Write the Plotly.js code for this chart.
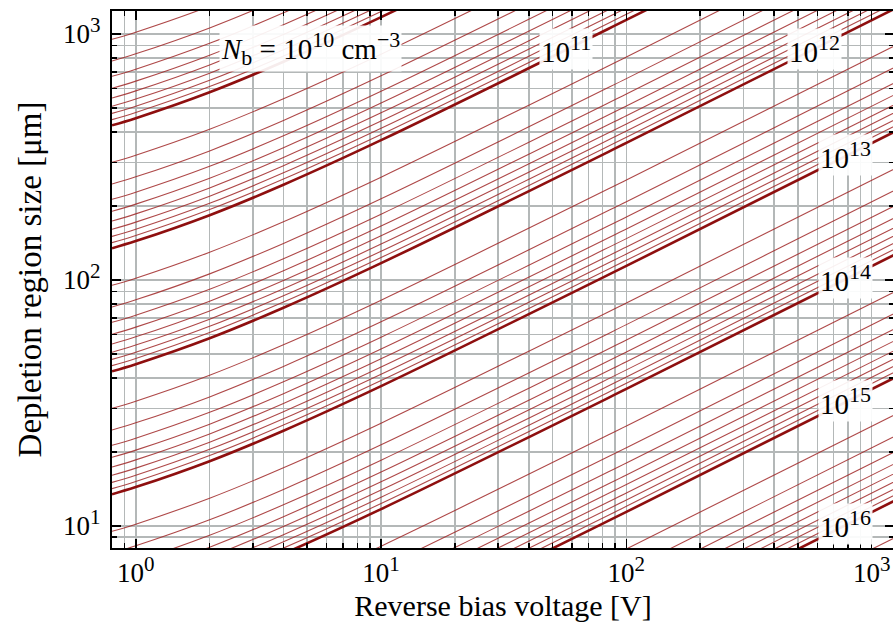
<!DOCTYPE html>
<html><head><meta charset="utf-8">
<script src="https://cdn.plot.ly/plotly-3.0.1.min.js"></script>
<style>html,body{margin:0;padding:0;overflow:hidden;background:#fff}#chart{width:895px;height:623px}</style>
</head><body><div id="chart"></div>
<script>
// Reverse bias voltage sample points [V]
const voltage = [0.8, 1, 2, 4, 10, 100, 1300];

// Depletion region size [um], grouped per decade of N_b
const mult09 = [2, 3, 4, 5, 6, 7, 8, 9];
const width09 = [
  [951.4, 1017.2, 1296.5, 1724.7, 2618.0, 8065, 28998],
  [776.8, 830.5, 1058.6, 1408.2, 2137.6, 6585, 23677],
  [672.8, 719.3, 916.7, 1219.5, 1851.2, 5703, 20505],
  [601.8, 643.3, 820.0, 1090.8, 1655.8, 5101, 18340],
  [549.3, 587.3, 748.5, 995.7, 1511.5, 4656, 16742],
  [508.6, 543.7, 693.0, 921.9, 1399.4, 4311, 15500],
  [475.7, 508.6, 648.3, 862.4, 1309.0, 4033, 14499],
  [448.5, 479.5, 611.2, 813.0, 1234.1, 3802, 13670]
];
const mult10 = [1, 2, 3, 4, 5, 6, 7, 8, 9];
const width10 = [
  [425.5, 454.9, 579.8, 771.3, 1170.8, 3606.8, 12968.5],
  [300.9, 321.7, 410.0, 545.4, 827.9, 2550, 9170],
  [245.7, 262.6, 334.8, 445.3, 676.0, 2082, 7487],
  [212.8, 227.5, 289.9, 385.7, 585.4, 1803, 6484],
  [190.3, 203.4, 259.3, 344.9, 523.6, 1613, 5800],
  [173.7, 185.7, 236.7, 314.9, 478.0, 1473, 5294],
  [160.8, 171.9, 219.1, 291.5, 442.5, 1363, 4902],
  [150.4, 160.8, 205.0, 272.7, 413.9, 1275, 4585],
  [141.8, 151.6, 193.3, 257.1, 390.3, 1202, 4323]
];
const mult11 = [1, 2, 3, 4, 5, 6, 7, 8, 9];
const width11 = [
  [134.6, 143.9, 183.4, 243.9, 370.2, 1140.6, 4101],
  [95.14, 101.7, 129.7, 172.5, 261.8, 806.5, 2900],
  [77.68, 83.05, 105.9, 140.8, 213.8, 658.5, 2368],
  [67.28, 71.93, 91.67, 122.0, 185.1, 570.3, 2051],
  [60.18, 64.33, 82.00, 109.1, 165.6, 510.1, 1834],
  [54.93, 58.73, 74.85, 99.57, 151.2, 465.6, 1674],
  [50.86, 54.37, 69.30, 92.19, 139.9, 431.1, 1550],
  [47.57, 50.86, 64.83, 86.24, 130.9, 403.3, 1450],
  [44.85, 47.95, 61.12, 81.30, 123.4, 380.2, 1367]
];
const mult12 = [1, 2, 3, 4, 5, 6, 7, 8, 9];
const width12 = [
  [42.55, 45.49, 57.98, 77.13, 117.1, 360.7, 1297],
  [30.09, 32.17, 41.00, 54.54, 82.79, 255.0, 917.0],
  [24.57, 26.26, 33.48, 44.53, 67.60, 208.2, 748.7],
  [21.28, 22.75, 28.99, 38.57, 58.54, 180.3, 648.4],
  [19.03, 20.34, 25.93, 34.49, 52.36, 161.3, 580.0],
  [17.37, 18.57, 23.67, 31.49, 47.80, 147.3, 529.4],
  [16.08, 17.19, 21.91, 29.15, 44.25, 136.3, 490.2],
  [15.04, 16.08, 20.50, 27.27, 41.39, 127.5, 458.5],
  [14.18, 15.16, 19.33, 25.71, 39.03, 120.2, 432.3]
];
const mult13 = [1, 2, 3, 4, 5, 6, 7, 8, 9];
const width13 = [
  [13.46, 14.39, 18.34, 24.39, 37.02, 114.1, 410.1],
  [9.514, 10.17, 12.97, 17.25, 26.18, 80.65, 290.0],
  [7.768, 8.305, 10.59, 14.08, 21.38, 65.85, 236.8],
  [6.728, 7.193, 9.167, 12.20, 18.51, 57.03, 205.1],
  [6.018, 6.433, 8.200, 10.91, 16.56, 51.01, 183.4],
  [5.493, 5.873, 7.485, 9.957, 15.12, 46.56, 167.4],
  [5.086, 5.437, 6.930, 9.219, 13.99, 43.11, 155.0],
  [4.757, 5.086, 6.483, 8.624, 13.09, 40.33, 145.0],
  [4.485, 4.795, 6.112, 8.130, 12.34, 38.02, 136.7]
];
const mult14 = [1, 2, 3, 4, 5, 6, 7, 8, 9];
const width14 = [
  [4.255, 4.549, 5.798, 7.713, 11.71, 36.07, 129.7],
  [3.009, 3.217, 4.100, 5.454, 8.279, 25.50, 91.70],
  [2.457, 2.626, 3.348, 4.453, 6.760, 20.82, 74.87],
  [2.128, 2.275, 2.899, 3.857, 5.854, 18.03, 64.84],
  [1.903, 2.034, 2.593, 3.449, 5.236, 16.13, 58.00],
  [1.737, 1.857, 2.367, 3.149, 4.780, 14.73, 52.94],
  [1.608, 1.719, 2.191, 2.915, 4.425, 13.63, 49.02],
  [1.504, 1.608, 2.050, 2.727, 4.139, 12.75, 45.85],
  [1.418, 1.516, 1.933, 2.571, 3.903, 12.02, 43.23]
];
const mult15 = [1, 2, 3, 4, 5, 6, 7, 8, 9];
const width15 = [
  [1.346, 1.439, 1.834, 2.439, 3.702, 11.41, 41.01],
  [0.9514, 1.017, 1.297, 1.725, 2.618, 8.065, 29.00],
  [0.7768, 0.8305, 1.059, 1.408, 2.138, 6.585, 23.68],
  [0.6728, 0.7193, 0.9167, 1.220, 1.851, 5.703, 20.51],
  [0.6018, 0.6433, 0.8200, 1.091, 1.656, 5.101, 18.34],
  [0.5493, 0.5873, 0.7485, 0.9957, 1.512, 4.656, 16.74],
  [0.5086, 0.5437, 0.6930, 0.9219, 1.399, 4.311, 15.50],
  [0.4757, 0.5086, 0.6483, 0.8624, 1.309, 4.033, 14.50],
  [0.4485, 0.4795, 0.6112, 0.8130, 1.234, 3.802, 13.67]
];
const mult16 = [1, 2];
const width16 = [
  [0.4255, 0.4549, 0.5798, 0.7713, 1.171, 3.607, 12.97],
  [0.3009, 0.3217, 0.4100, 0.5454, 0.8279, 2.550, 9.170]
];

// Tick labels (superscript exponents)
const xTickVals = [1, 10, 100, 1000];
const xTickExp = ['0', '1', '2', '3'];
const yTickVals = [10, 100, 1000];
const yTickExp = ['1', '2', '3'];

// Curve labels: decade exponents of N_b
const labelExp = ['10', '11', '12', '13', '14', '15', '16'];

const FONT = 'Liberation Serif, Times New Roman, serif';
const sup = (t, px) => '<sup><span style="font-size:' + px + 'px">' + t + '</span></sup>';
const xTickText = xTickExp.map(e => '10' + sup(e, 21));
const yTickText = yTickExp.map(e => '10' + sup(e, 21));
const curveLabels = labelExp.map((e, i) => i === 0
  ? '<i>N</i><sub><span style="font-size:22px">b</span></sub> = 10' + sup(e, 22) + ' cm' + sup('\u22123', 22)
  : '10' + sup(e, 22));

const groups = [
  {e: 9, m: mult09, w: width09}, {e: 10, m: mult10, w: width10}, {e: 11, m: mult11, w: width11},
  {e: 12, m: mult12, w: width12}, {e: 13, m: mult13, w: width13}, {e: 14, m: mult14, w: width14},
  {e: 15, m: mult15, w: width15}, {e: 16, m: mult16, w: width16}
];
const thin = [], thick = [];
groups.forEach(g => g.w.forEach((row, i) => {
  const isDecade = g.m[i] === 1;
  const tr = {
    type: 'scatter', mode: 'lines', x: voltage, y: row,
    name: g.m[i] + 'e' + g.e, showlegend: false, hoverinfo: 'skip',
    line: {shape: 'spline', smoothing: 1,
      color: isDecade ? '#8e0f0f' : 'rgba(160,40,40,0.85)', width: isDecade ? 2.6 : 1.1}
  };
  (isDecade ? thick : thin).push(tr);
}));

function minorVals(lo, hi) {
  const v = [];
  for (let d = -1; d <= 3; d++) for (let m = 2; m <= 9; m++) {
    const t = m * Math.pow(10, d);
    if (t >= lo && t <= hi) v.push(t);
  }
  return v;
}
const grid = '#b4b8b8';
const axisCommon = {
  type: 'log', tickmode: 'array', ticks: 'inside', ticklen: 9, tickwidth: 1.5, tickcolor: '#000',
  mirror: 'allticks', showline: true, linewidth: 2, linecolor: '#000',
  showgrid: true, gridcolor: grid, gridwidth: 1.5, zeroline: false,
  tickfont: {family: FONT, size: 27, color: '#000'}
};
const xaxis = Object.assign({}, axisCommon, {
  range: [-0.0969, 3.091], tickvals: xTickVals, ticktext: xTickText,
  minor: {tickmode: 'array', tickvals: minorVals(0.8, 1300), ticks: 'inside', ticklen: 5, tickwidth: 1.5,
    tickcolor: '#000', showgrid: true, gridcolor: grid, gridwidth: 1.5},
  title: {text: 'Reverse bias voltage [V]', font: {family: FONT, size: 30, color: '#000'}, standoff: 8}
});
const yaxis = Object.assign({}, axisCommon, {
  range: [0.9105, 3.0935], tickvals: yTickVals, ticktext: yTickText, ticklabelstandoff: 4,
  minor: {tickmode: 'array', tickvals: minorVals(8, 1300), ticks: 'inside', ticklen: 5, tickwidth: 1.5,
    tickcolor: '#000', showgrid: true, gridcolor: grid, gridwidth: 1.5},
  title: {text: 'Depletion region size [\u03bcm]', font: {family: FONT, size: 33, color: '#000'}, standoff: 12}
});

const labelPos = [[0.714, 2.94], [1.754, 2.94], [2.765, 2.94], [2.895, 2.508], [2.895, 2.008], [2.895, 1.508], [2.895, 1.008]];
const annotations = curveLabels.map((t, i) => ({
  text: t, x: labelPos[i][0], y: labelPos[i][1], xref: 'x', yref: 'y', showarrow: false,
  xanchor: 'center', yanchor: 'middle', bgcolor: 'rgba(255,255,255,0.92)', borderpad: 1,
  font: {family: FONT, size: 29, color: '#000'}
}));

Plotly.newPlot('chart', thin.concat(thick), {
  width: 895, height: 623, paper_bgcolor: '#fff', plot_bgcolor: '#fff',
  margin: {l: 112, r: 1, t: 11, b: 75},
  xaxis: xaxis, yaxis: yaxis, annotations: annotations, showlegend: false,
  font: {family: FONT, color: '#000'}
}, {staticPlot: true});
</script></body></html>
